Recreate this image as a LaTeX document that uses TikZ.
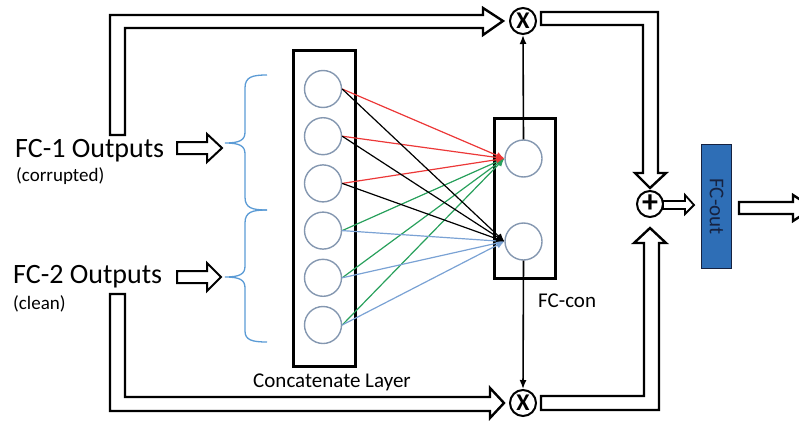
\documentclass[tikz,border=0pt]{standalone}
\usepackage{fontspec}
\setmainfont{Carlito}
\usepackage{tikz}
\usetikzlibrary{arrows.meta}
\definecolor{nodegray}{RGB}{132,151,176}
\definecolor{bracebl}{RGB}{91,155,213}
\definecolor{edgered}{RGB}{236,56,56}
\definecolor{edgegreen}{RGB}{40,160,92}
\definecolor{edgeblue}{RGB}{122,162,212}
\definecolor{outblue}{RGB}{46,110,182}
\definecolor{outnavy}{RGB}{22,34,64}
\tikzset{
    layerbox/.style={rectangle, draw=black, line width=3.2pt, inner sep=0pt},
    neuron/.style={circle, draw=nodegray, line width=1.4pt, minimum size=37pt, inner sep=0pt},
    opnode/.style={circle, draw=black, line width=2pt, minimum size=26pt,
                   inner sep=0pt, font=\fontsize{24}{24}\selectfont\bfseries},
    outbox/.style={rectangle, draw=outnavy, fill=outblue, line width=1.5pt,
                   inner sep=0pt, text=outnavy, font=\fontsize{21}{21}\selectfont},
    hollow/.style={draw=black, line width=2.4pt, fill=white, line join=miter},
    thinarrow/.style={-{Latex[length=9pt, width=7pt]}, line width=1.6pt},
    edge/.style={-{Latex[length=8pt, width=7pt]}, line width=1.2pt},
    bracket/.style={draw=bracebl, line width=1.3pt},
    bigtxt/.style={inner sep=0pt, font=\fontsize{28}{30}\selectfont},
    subtxt/.style={inner sep=0pt, font=\fontsize{19}{20}\selectfont},
    midtxt/.style={inner sep=0pt, font=\fontsize{21}{22}\selectfont},
}
\begin{document}
\begin{tikzpicture}[x=1pt, y=-1pt]
    \path[use as bounding box, clip] (0,0) rectangle (799,420);

    % input labels
    \node[bigtxt, anchor=base west] (fc1) at (15,157) {FC-1 Outputs};
    \node[subtxt, anchor=base west] (fc1sub) at (16,181) {(corrupted)};
    \node[bigtxt, anchor=base west] (fc2) at (13,283) {FC-2 Outputs};
    \node[subtxt, anchor=base west] (fc2sub) at (13,309) {(clean)};

    % concatenate layer
    \node[layerbox, minimum width=62pt, minimum height=316pt] (catbox) at (324.5,208.5) {};
    \foreach \i in {1,...,6}
        \node[neuron] (s\i) at (323,{89+47.2*(\i-1)}) {};
    \node[midtxt, anchor=base] (catlbl) at (332,387) {Concatenate Layer};

    % FC-con layer
    \node[layerbox, minimum width=61pt, minimum height=160pt] (conbox) at (525,198.5) {};
    \node[neuron] (t1) at (523.5,158.5) {};
    \node[neuron] (t2) at (523.5,241.5) {};
    \node[midtxt, anchor=base west] (conlbl) at (538,307) {FC-con};

    % gates and output
    \node[opnode] (xtop) at (523,21) {X};
    \node[opnode] (xbot) at (523,403) {X};
    \node[opnode, font=\fontsize{32}{32}\selectfont\bfseries] (plus) at (650,204) {+};
    \node[outbox, rotate=-90, minimum width=124pt, minimum height=30pt] (fcout) at (716.5,206.5) {FC-out};

    % braces
    \draw[bracket] (267,75) .. controls (252,75) and (245,77) .. (245,88) -- (245,132)
        .. controls (245,140) and (240,143) .. (225,143)
        .. controls (240,143) and (245,146) .. (245,154) -- (245,197)
        .. controls (245,208) and (252,210) .. (267,210);
    \draw[bracket] (267,210) .. controls (252,210) and (245,212) .. (245,223) -- (245,266)
        .. controls (245,274) and (240,277) .. (225,277)
        .. controls (240,277) and (245,280) .. (245,288) -- (245,331)
        .. controls (245,340) and (252,342) .. (267,342);

    % connections between layers
    \foreach \i in {4,5,6} \draw[edge, edgegreen] (s\i.east) -- (t1.west);
    \foreach \i in {1,2,3} \draw[edge, edgered] (s\i.east) -- (t1.west);
    \foreach \i in {4,5,6} \draw[edge, edgeblue] (s\i.east) -- (t2.west);
    \foreach \i in {1,2,3} \draw[edge, black] (s\i.east) -- (t2.west);

    \draw[thinarrow] (t1.north) -- (xtop.south);
    \draw[thinarrow] (t2.south) -- (xbot.north);

    % hollow arrows
    \draw[hollow, line width=2pt] (177,142) -- (207,142) -- (207,134) -- (222,148)
        -- (207,162) -- (207,154) -- (177,154) -- cycle;
    \draw[hollow, line width=2pt] (177,271) -- (207,271) -- (207,263) -- (221,277)
        -- (207,291) -- (207,283) -- (177,283) -- cycle;
    \draw[hollow] (110,135) -- (110,15) -- (483,15) -- (483,8) -- ([xshift=-6pt]xtop.west)
        -- (483,35) -- (483,28) -- (125,28) -- (125,135) -- cycle;
    \draw[hollow] (110,294) -- (110,411) -- (490,411) -- (490,418) -- ([xshift=-5pt]xbot.west)
        -- (490,388) -- (490,397) -- (125,397) -- (125,294) -- cycle;
    \draw[hollow] (541,12) -- (658,12) -- (658,173) -- (666,173) -- ([yshift=2pt]plus.north)
        -- (635,173) -- (643,173) -- (643,25) -- (541,25) -- cycle;
    \draw[hollow] (541,396) -- (644,396) -- (644,243) -- (634,243) -- ([yshift=-10pt]plus.south)
        -- (666,243) -- (659,243) -- (659,410) -- (541,410) -- cycle;
    \draw[hollow, line width=1.8pt] (663,201) -- (685,201) -- (685,195) -- (694,205)
        -- (685,214) -- (685,209) -- (663,209) -- cycle;
    \draw[hollow] (739,202) -- (793,202) -- (793,195) -- (813,208)
        -- (793,221) -- (793,214) -- (739,214) -- cycle;
\end{tikzpicture}
\end{document}
